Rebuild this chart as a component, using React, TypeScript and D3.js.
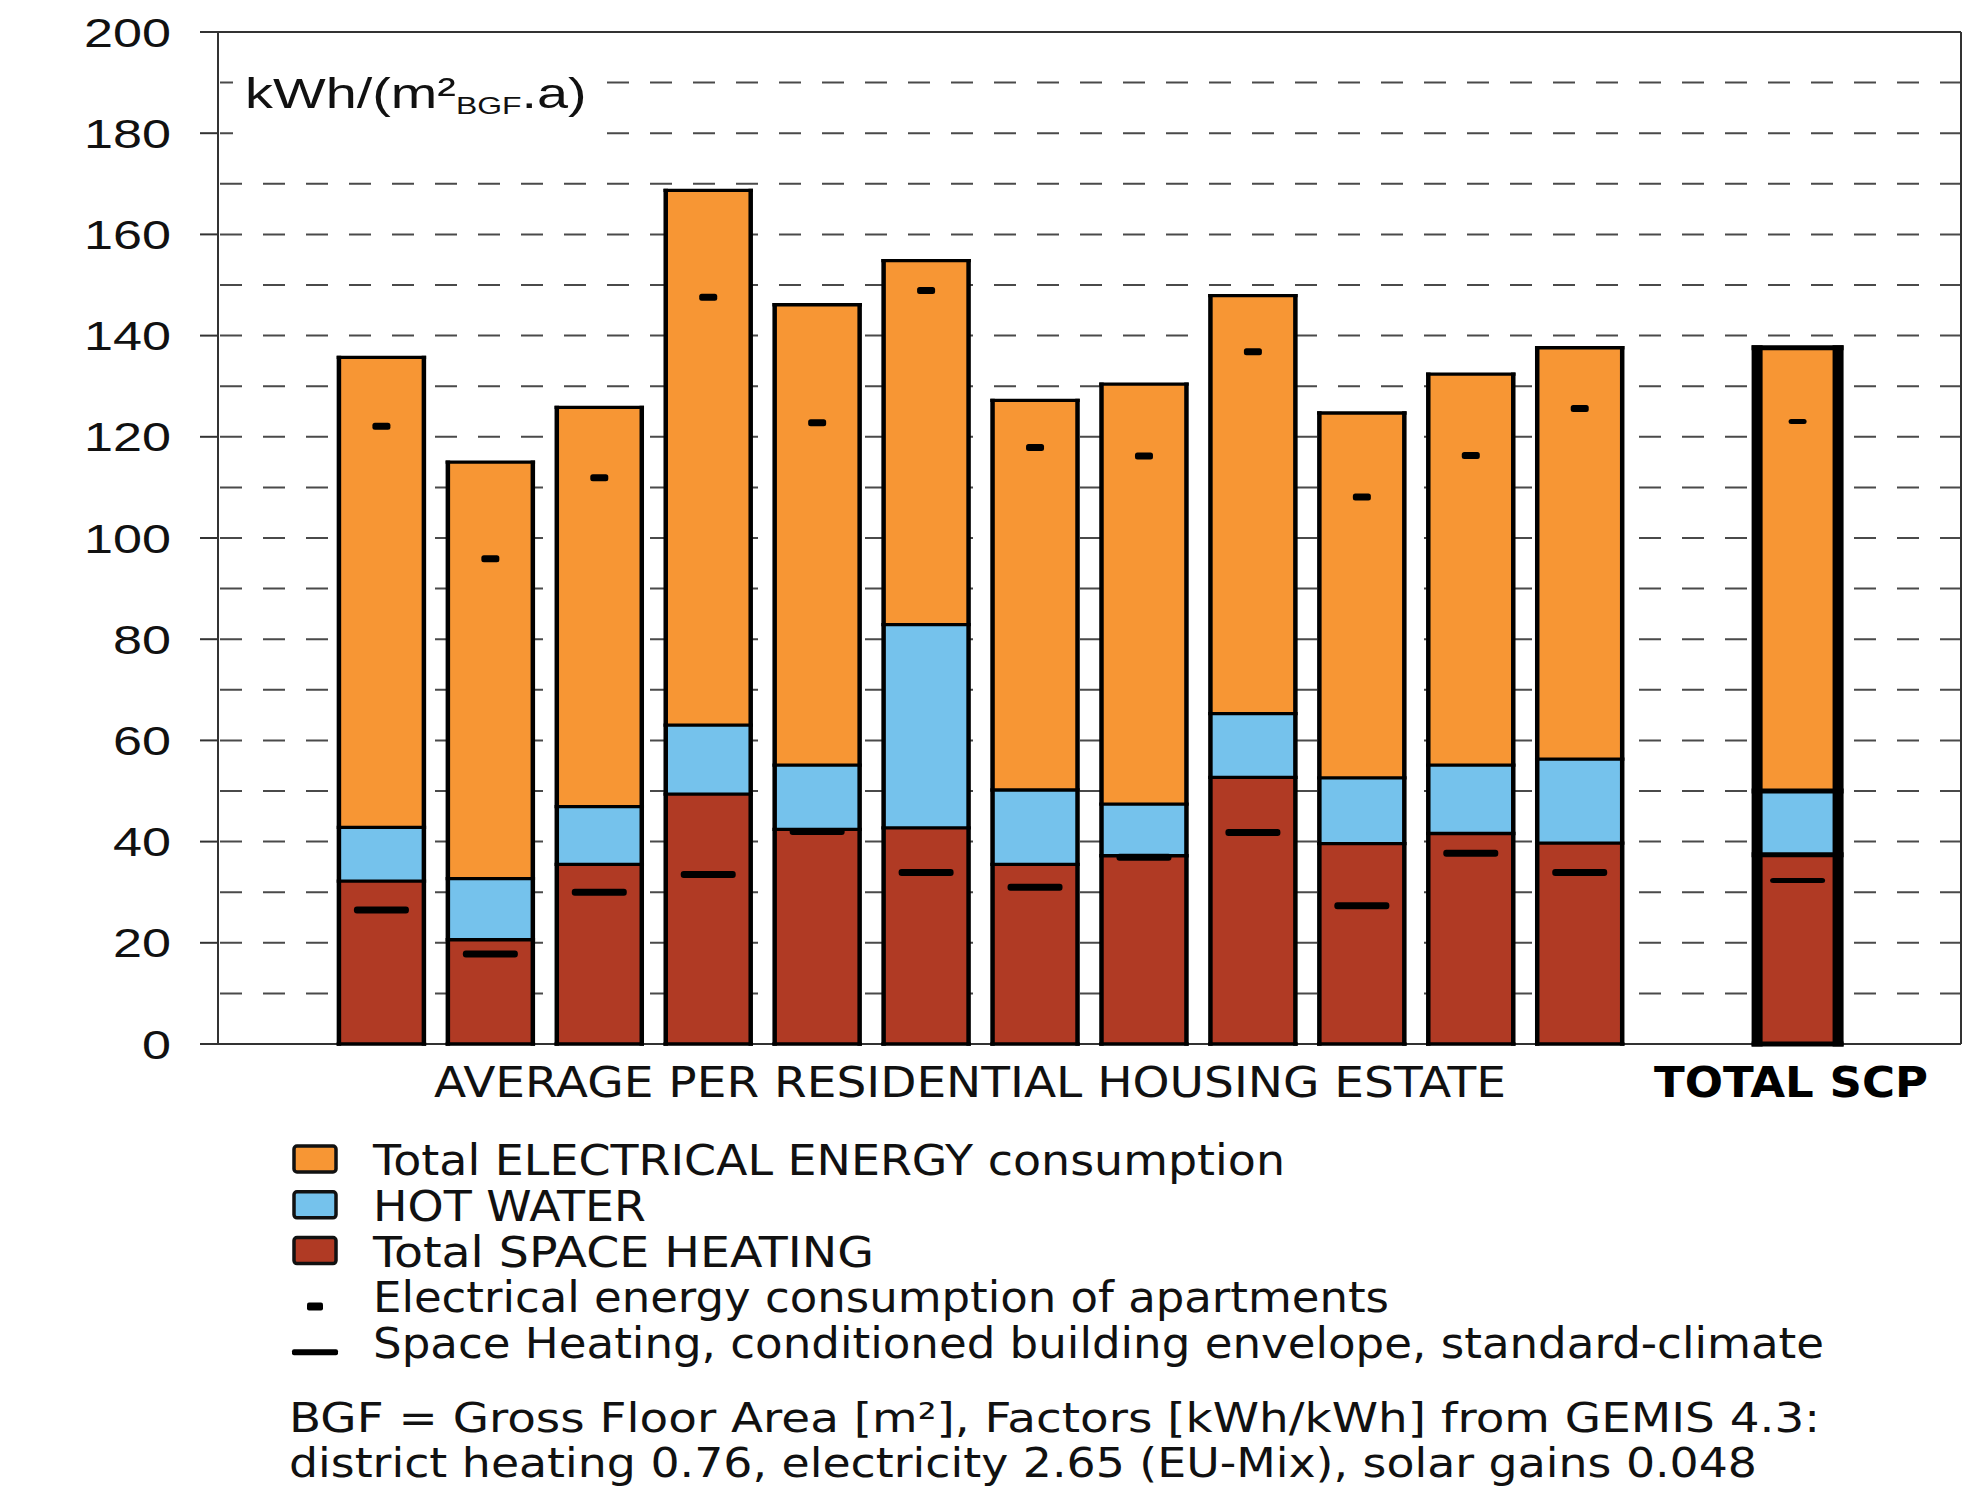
import React from "react";
import * as d3 from "d3";

// ---- data ----
const estates = ["Estate 1", "Estate 2", "Estate 3", "Estate 4", "Estate 5", "Estate 6", "Estate 7", "Estate 8", "Estate 9", "Estate 10", "Estate 11", "Estate 12"];
const totalCategory = "TOTAL SCP";
const categories = [...estates, totalCategory];

const spaceHeating = [32.2, 20.6, 35.5, 49.4, 42.4, 42.7, 35.5, 37.2, 52.7, 39.6, 41.6, 39.7, 37.4];
const hotWater = [10.6, 12.1, 11.4, 13.6, 12.7, 40.2, 14.7, 10.2, 12.6, 13.0, 13.5, 16.6, 12.6];
const electricalEnergy = [92.9, 82.3, 78.9, 105.7, 91.0, 71.9, 77.0, 83.0, 82.6, 72.1, 77.3, 81.3, 87.6];
const electricalApartments = [122.1, 95.9, 111.9, 147.6, 122.8, 148.9, 117.9, 116.2, 136.8, 108.1, 116.3, 125.6, 123.0];
const heatingStandardClimate = [26.5, 17.8, 30.0, 33.5, 42.0, 33.9, 31.0, 36.9, 41.8, 27.3, 37.7, 33.9, 32.3];

const yTicks = [0, 20, 40, 60, 80, 100, 120, 140, 160, 180, 200];
const gridValues = [10, 20, 30, 40, 50, 60, 70, 80, 90, 100, 110, 120, 130, 140, 150, 160, 170, 180, 190];

const seriesKeys = ["heating", "water", "electrical"];
const seriesColors: Record<string, string> = { heating: "#B03A24", water: "#75C2EC", electrical: "#F79634" };
const legendItems = [
  { key: "electrical", label: "Total ELECTRICAL ENERGY consumption", width: 912 },
  { key: "water", label: "HOT WATER", width: 273 },
  { key: "heating", label: "Total SPACE HEATING", width: 501 },
  { key: "elecMarker", label: "Electrical energy consumption of apartments", width: 1016 },
  { key: "heatMarker", label: "Space Heating, conditioned building envelope, standard-climate", width: 1451 },
];
const footnoteLines = [
  { text: "BGF = Gross Floor Area [m²], Factors [kWh/kWh] from GEMIS 4.3:", width: 1531 },
  { text: "district heating 0.76, electricity 2.65 (EU-Mix), solar gains 0.048", width: 1468 },
];
const xAxisLabel = "AVERAGE PER RESIDENTIAL HOUSING ESTATE";

const SANS = "'DejaVu Sans', Verdana, sans-serif";
const ARIAL = "'Liberation Sans', Arial, sans-serif";

export default function App() {
  const W = 1985, H = 1492;
  const left = 218, right = 1961, top = 32, bottom = 1044;
  const slots = ["pad-a", ...estates, "pad-b", totalCategory, "pad-c"];
  const x = d3.scaleBand<string>().domain(slots).range([left, right]).paddingInner(0.22).paddingOuter(0.11);
  const y = d3.scaleLinear().domain([0, 200]).range([bottom, top]);
  const bw = x.bandwidth();

  const rows = categories.map((c, i) => ({
    category: c,
    heating: spaceHeating[i],
    water: hotWater[i],
    electrical: electricalEnergy[i],
  }));
  const stacked = d3.stack<any>().keys(seriesKeys)(rows);

  const lineColor = "#333";
  const gridColor = "#4a4a4a";

  return (
    <svg width={W} height={H} style={{ position: "absolute", left: 0, top: 0, background: "#fff" }}>
      <rect x={0} y={0} width={W} height={H} fill="#fff" />
      {/* gridlines */}
      {gridValues.map((v) => (
        <line key={"g" + v} x1={left} x2={right} y1={y(v)} y2={y(v)} stroke={gridColor} strokeWidth={2} strokeDasharray="22 21" strokeDashoffset={-2} />
      ))}
      {/* unit label with white box */}
      <rect x={233} y={66} width={372} height={76} fill="#fff" />
      <text transform="translate(245,108) scale(1.33,1)" fontFamily={ARIAL} fontSize={42} fill="#111">
        kWh/(m²<tspan fontSize={24} dy={6}>BGF</tspan><tspan dy={-6}>.a)</tspan>
      </text>
      {/* y ticks and labels */}
      {yTicks.map((v) => (
        <g key={"t" + v}>
          <line x1={200} x2={left} y1={y(v)} y2={y(v)} stroke={lineColor} strokeWidth={2} />
          <text x={171} y={y(v) + 14.5} textAnchor="end" fontFamily={ARIAL} fontSize={40.5} fill="#111"
            textLength={29 * String(v).length} lengthAdjust="spacingAndGlyphs">{v}</text>
        </g>
      ))}
      {/* frame */}
      <line x1={left} x2={left} y1={top} y2={bottom} stroke={lineColor} strokeWidth={2} />
      <line x1={200} x2={right} y1={top} y2={top} stroke={lineColor} strokeWidth={2} />
      <line x1={right} x2={right} y1={top} y2={bottom} stroke={lineColor} strokeWidth={2} />
      <line x1={200} x2={right} y1={bottom} y2={bottom} stroke={lineColor} strokeWidth={2} />

      {/* bars */}
      {categories.map((c, i) => {
        const isTotal = c === totalCategory;
        const inset = isTotal ? 2 : 0;
        const xl = (x(c) as number) + inset;
        const xr = (x(c) as number) + bw - inset;
        const cx = (xl + xr) / 2;
        const hw = isTotal ? 5 : 3.3;
        const vw = isTotal ? 11 : 4.5;
        const topVal = stacked[stacked.length - 1][i][1];
        const bounds = [0, ...stacked.map((s) => s[i][1])];
        return (
          <g key={c}>
            {stacked.map((s) => (
              <rect key={s.key} x={xl} width={xr - xl} y={y(s[i][1])} height={y(s[i][0]) - y(s[i][1])} fill={seriesColors[s.key]} />
            ))}
            {bounds.map((b, k) => (
              <line key={"h" + k} x1={xl - vw / 2} x2={xr + vw / 2} y1={y(b)} y2={y(b)} stroke="#000" strokeWidth={hw} />
            ))}
            <line x1={xl} x2={xl} y1={y(topVal) - hw / 2} y2={y(0) + hw / 2} stroke="#000" strokeWidth={vw} />
            <line x1={xr} x2={xr} y1={y(topVal) - hw / 2} y2={y(0) + hw / 2} stroke="#000" strokeWidth={vw} />
            <rect x={cx - 9} width={18} y={y(electricalApartments[i]) - (isTotal ? 2.5 : 3.5)} height={isTotal ? 5 : 7} rx={2.5} fill="#000" />
            <rect x={cx - 27.5} width={55} y={y(heatingStandardClimate[i]) - (isTotal ? 2.5 : 3.5)} height={isTotal ? 5 : 7} rx={3} fill="#000" />
          </g>
        );
      })}

      {/* x labels */}
      <text x={434} y={1097} fontFamily={SANS} fontSize={42} fill="#111" textLength={1072} lengthAdjust="spacingAndGlyphs">{xAxisLabel}</text>
      <text x={1654} y={1097} fontFamily={SANS} fontSize={42} fontWeight="bold" fill="#000" textLength={274} lengthAdjust="spacingAndGlyphs">{totalCategory}</text>

      {/* legend */}
      {legendItems.map((it, k) => {
        const base = 1175 + k * 45.8;
        let sym: React.ReactNode = null;
        if (seriesColors[it.key]) {
          sym = <rect x={294} y={base - 29} width={42} height={26} rx={3} fill={seriesColors[it.key]} stroke="#111" strokeWidth={3.5} />;
        } else if (it.key === "elecMarker") {
          sym = <rect x={307} y={base - 10} width={16} height={8} rx={2} fill="#000" />;
        } else {
          sym = <rect x={292} y={base - 9} width={46} height={6} rx={2} fill="#000" />;
        }
        return (
          <g key={it.key}>
            {sym}
            <text x={373} y={base} fontFamily={SANS} fontSize={42} fill="#111" textLength={it.width} lengthAdjust="spacingAndGlyphs">{it.label}</text>
          </g>
        );
      })}
      {footnoteLines.map((f, k) => (
        <text key={k} x={289} y={1432 + k * 45} fontFamily={SANS} fontSize={41} fill="#111" textLength={f.width} lengthAdjust="spacingAndGlyphs">{f.text}</text>
      ))}
    </svg>
  );
}
